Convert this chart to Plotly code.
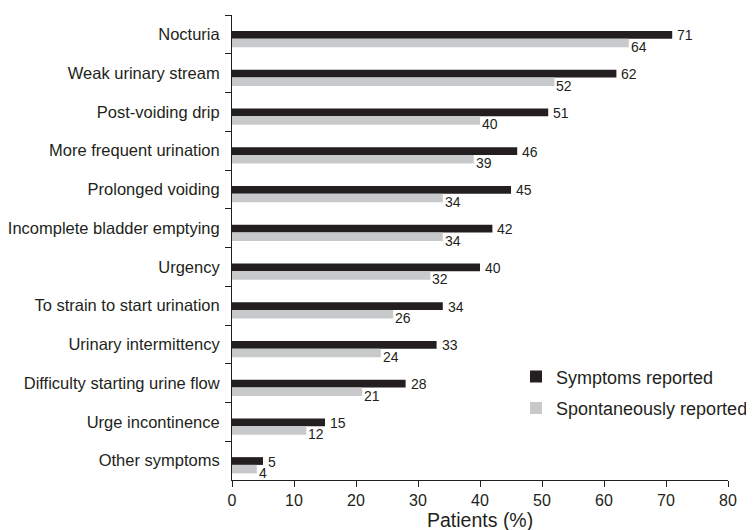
import plotly.graph_objects as go

categories = [
    "Nocturia", "Weak urinary stream", "Post-voiding drip", "More frequent urination",
    "Prolonged voiding", "Incomplete bladder emptying", "Urgency",
    "To strain to start urination", "Urinary intermittency",
    "Difficulty starting urine flow", "Urge incontinence", "Other symptoms",
]
symptoms_reported = [71, 62, 51, 46, 45, 42, 40, 34, 33, 28, 15, 5]
spontaneously_reported = [64, 52, 40, 39, 34, 34, 32, 26, 24, 21, 12, 4]
x_ticks = [0, 10, 20, 30, 40, 50, 60, 70, 80]
x_title = "Patients (%)"

BLACK = "#231f20"
GRAY = "#c8c9cb"
FONT = "Liberation Sans, Arial, sans-serif"

fig = go.Figure()
fig.add_trace(go.Bar(
    y=categories, x=symptoms_reported, orientation="h", name="Symptoms reported",
    marker=dict(color=BLACK, line=dict(width=0)), offset=-0.09, width=0.2,
    legendgroup="a",
))
fig.add_trace(go.Bar(
    y=categories, x=spontaneously_reported, orientation="h", name="Spontaneously reported",
    marker=dict(color=GRAY, line=dict(width=0)), offset=0.11, width=0.22,
    legendgroup="b",
))

annotations = []
for c, v in zip(categories, symptoms_reported):
    annotations.append(dict(x=v, y=c, text=str(v), showarrow=False, xanchor="left",
                            yanchor="middle", xshift=3, yshift=-1,
                            font=dict(size=14, color=BLACK, family=FONT)))
for c, v in zip(categories, spontaneously_reported):
    annotations.append(dict(x=v, y=c, text=str(v), showarrow=False, xanchor="left",
                            yanchor="middle", xshift=0, yshift=-12.5,
                            font=dict(size=14, color=BLACK, family=FONT)))
# x-axis title
annotations.append(dict(x=0.5, y=0, xref="paper", yref="paper", text=x_title,
                        showarrow=False, xanchor="center", yanchor="top", yshift=-28,
                        borderpad=0,
                        font=dict(size=19.5, color=BLACK, family=FONT)))

fig.update_layout(
    width=754, height=530,
    margin=dict(l=224, r=34, t=7, b=58, autoexpand=False),
    paper_bgcolor="white", plot_bgcolor="white",
    barmode="overlay",
    font=dict(family=FONT, color=BLACK, size=17),
    showlegend=True,
    legend=dict(x=0.5726, y=0.2616, xanchor="left", yanchor="top",
                font=dict(size=18, color=BLACK, family=FONT),
                bgcolor="rgba(0,0,0,0)", tracegroupgap=5),
    annotations=annotations,
)
fig.update_xaxes(
    range=[0, 80], tickvals=x_ticks, ticks="outside", ticklen=6, tickwidth=1,
    tickcolor=BLACK, showline=True, linecolor=BLACK, linewidth=1,
    showgrid=False, zeroline=False, automargin=False,
    tickfont=dict(size=16, color=BLACK, family=FONT),
)
fig.update_yaxes(
    type="category", categoryorder="array", categoryarray=categories,
    range=[11.5, -0.5], ticks="outside", tickson="boundaries", ticklen=6,
    tickwidth=1, tickcolor=BLACK, showline=True, linecolor=BLACK, linewidth=1,
    showgrid=False, zeroline=False, ticklabelstandoff=8, automargin=False,
    tickfont=dict(size=16.5, color=BLACK, family=FONT),
)

fig.write_html("out.html")
